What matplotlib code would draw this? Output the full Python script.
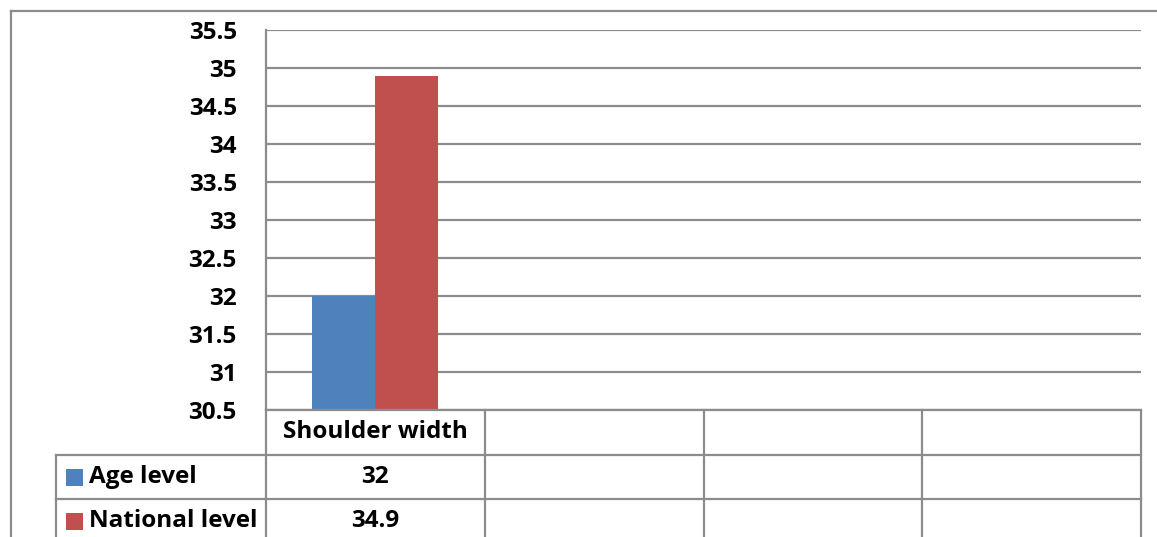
import matplotlib
matplotlib.use("Agg")
import matplotlib.pyplot as plt
from matplotlib.lines import Line2D
from matplotlib.patches import Rectangle

# Data
categories = ["Shoulder width", "", "", ""]
series_names = ["Age level", "National level"]
age_level = [32, None, None, None]
national_level = [34.9, None, None, None]
series_colors = ["#4F81BD", "#C0504D"]
y_ticks = [30.5, 31, 31.5, 32, 32.5, 33, 33.5, 34, 34.5, 35, 35.5]
y_tick_labels = ["30.5", "31", "31.5", "32", "32.5", "33", "33.5", "34", "34.5", "35", "35.5"]

W, H = 1157, 537
DPI = 100
GRID = "#8C8C8C"
FONT = ["Open Sans", "DejaVu Sans"]
FS = 17.5

plt.rcParams["font.family"] = FONT
plt.rcParams["font.weight"] = "bold"

fig = plt.figure(figsize=(W / DPI, H / DPI), dpi=DPI)


def fx(px):
    return px / W


def fy(py):
    return 1 - py / H


# Plot area (pixel box)
left, right, top, bottom = 266, 1141, 30, 410
ax = fig.add_axes([fx(left), fy(bottom), fx(right - left), (bottom - top) / H])

n = len(categories)
xs = list(range(n))
bw = 0.288
for vals, off, col in [(age_level, -bw / 2, series_colors[0]),
                       (national_level, bw / 2, series_colors[1])]:
    bx = [x + off for x, v in zip(xs, vals) if v is not None]
    bv = [v - y_ticks[0] for v in vals if v is not None]
    ax.bar(bx, bv, width=bw, bottom=y_ticks[0], color=col, zorder=3)

ax.set_xlim(-0.5, n - 0.5)
ax.set_ylim(y_ticks[0], y_ticks[-1])
ax.set_yticks(y_ticks)
ax.set_yticklabels(y_tick_labels, fontsize=FS, fontweight="bold")
ax.tick_params(axis="y", length=0, pad=21)
ax.set_xticks([])
ax.yaxis.grid(True, color=GRID, linewidth=1.6)
ax.set_axisbelow(True)
for s in ["top", "right", "bottom"]:
    ax.spines[s].set_visible(False)
ax.spines["left"].set_color(GRID)
ax.spines["left"].set_linewidth(1.6)


def fline(x0, y0, x1, y1):
    fig.add_artist(Line2D([fx(x0), fx(x1)], [fy(y0), fy(y1)],
                          color=GRID, linewidth=1.6, transform=fig.transFigure))


# Outer chart frame
fline(11, 11, W + 5, 11)
fline(11, 11, 11, H + 5)

# Data table geometry (pixels)
row_h = [410, 455, 499, H + 5]
leg_left = 56
col_edges = [left + (right - left) * i / n for i in range(n + 1)]

# Vertical lines
fline(left, bottom, left, H + 5)
for xe in col_edges[1:]:
    fline(xe, row_h[0], xe, H + 5)
fline(leg_left, row_h[1], leg_left, H + 5)
# Horizontal lines
fline(left, row_h[0], right, row_h[0])
fline(leg_left, row_h[1], right, row_h[1])
fline(leg_left, row_h[2], right, row_h[2])

# Category labels
for i, c in enumerate(categories):
    cx = (col_edges[i] + col_edges[i + 1]) / 2
    fig.text(fx(cx), fy((row_h[0] + row_h[1]) / 2), c, ha="center", va="center",
             fontsize=FS, fontweight="bold")

# Series rows
for r, (name, vals, col) in enumerate(zip(series_names, [age_level, national_level], series_colors)):
    yc = row_h[r + 1] + 22
    ks = 17
    fig.add_artist(Rectangle((fx(66), fy(yc + ks / 2)), ks / W, ks / H,
                             facecolor=col, edgecolor="none", transform=fig.transFigure))
    fig.text(fx(89), fy(yc), name, ha="left", va="center", fontsize=FS, fontweight="bold")
    for i, v in enumerate(vals):
        if v is None:
            continue
        cx = (col_edges[i] + col_edges[i + 1]) / 2
        fig.text(fx(cx), fy(yc), f"{v:g}", ha="center", va="center",
                 fontsize=FS, fontweight="bold")

fig.savefig("out.png", dpi=DPI, facecolor="white")
